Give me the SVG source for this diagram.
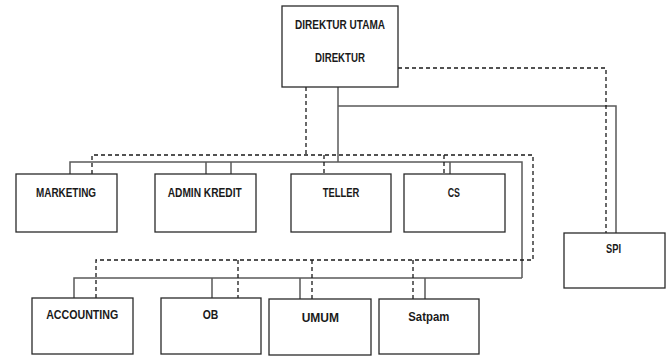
<svg xmlns="http://www.w3.org/2000/svg" width="670" height="356" viewBox="0 0 670 356">
  <style>
    .box { fill: #ffffff; stroke: #2a2a2a; stroke-width: 1.3; }
    .lbl { font-family: "Liberation Sans", Arial, sans-serif; font-weight: bold; font-size: 13px; fill: #1a1a1a; text-anchor: middle; }
    .solid { fill: none; stroke: #5a5a5a; stroke-width: 1.5; }
    .dash { fill: none; stroke: #1a1a1a; stroke-width: 1.3; stroke-dasharray: 4 3; }
  </style>
  <rect width="670" height="356" fill="#ffffff"/>

  <!-- connectors -->
  <g id="connectors">
    <!-- solid reporting lines -->
    <path class="solid" d="M338,87 V162"/>
    <path class="solid" d="M338,106 H616 V233"/>
    <path class="solid" d="M70,174 V162 H522 V278"/>
    <path class="solid" d="M206,162 V174 M231,162 V174 M450,162 V174"/>
    <path class="solid" d="M74,299 V278 H522"/>
    <path class="solid" d="M212,278 V298 M300,278 V299 M425,278 V299"/>
    <!-- dashed coordination lines -->
    <path class="dash" d="M398,68 H606 V233"/>
    <path class="dash" d="M306,87 V155"/>
    <path class="dash" d="M92,174 V155 H533 V260 H96 V298"/>
    <path class="dash" d="M324,155 V174 M444,155 V174"/>
    <path class="dash" d="M238,260 V298 M312,260 V299 M413,260 V299"/>
  </g>

  <g id="direktur">
    <rect class="box" x="282" y="6" width="116" height="81"/>
    <text class="lbl" x="340" y="28.5" textLength="90" lengthAdjust="spacingAndGlyphs">DIREKTUR UTAMA</text>
    <text class="lbl" x="340" y="62" textLength="50" lengthAdjust="spacingAndGlyphs">DIREKTUR</text>
  </g>
  <g id="marketing">
    <rect class="box" x="16" y="174" width="101" height="58"/>
    <text class="lbl" x="66" y="196.5" textLength="60" lengthAdjust="spacingAndGlyphs">MARKETING</text>
  </g>
  <g id="admin-kredit">
    <rect class="box" x="155" y="174" width="101" height="58"/>
    <text class="lbl" x="204.7" y="196.5" textLength="74" lengthAdjust="spacingAndGlyphs">ADMIN KREDIT</text>
  </g>
  <g id="teller">
    <rect class="box" x="291" y="174" width="100" height="58"/>
    <text class="lbl" x="341" y="196.5" textLength="36.6" lengthAdjust="spacingAndGlyphs">TELLER</text>
  </g>
  <g id="cs">
    <rect class="box" x="404" y="174" width="101" height="58"/>
    <text class="lbl" x="453.8" y="196.5" textLength="12.3" lengthAdjust="spacingAndGlyphs">CS</text>
  </g>
  <g id="spi">
    <rect class="box" x="564" y="233" width="101" height="55"/>
    <text class="lbl" x="613.5" y="252.5" textLength="15" lengthAdjust="spacingAndGlyphs">SPI</text>
  </g>
  <g id="accounting">
    <rect class="box" x="32" y="298" width="101" height="56"/>
    <text class="lbl" x="82.2" y="318.5" textLength="72" lengthAdjust="spacingAndGlyphs">ACCOUNTING</text>
  </g>
  <g id="ob">
    <rect class="box" x="161" y="298" width="100" height="56"/>
    <text class="lbl" x="210.5" y="318.5" textLength="15.6" lengthAdjust="spacingAndGlyphs">OB</text>
  </g>
  <g id="umum">
    <rect class="box" x="269" y="299" width="102" height="56"/>
    <text class="lbl" x="320.3" y="321.5" textLength="37.3" lengthAdjust="spacingAndGlyphs">UMUM</text>
  </g>
  <g id="satpam">
    <rect class="box" x="379" y="299" width="100" height="55"/>
    <text class="lbl" x="428.8" y="321" textLength="41" lengthAdjust="spacingAndGlyphs">Satpam</text>
  </g>
</svg>
